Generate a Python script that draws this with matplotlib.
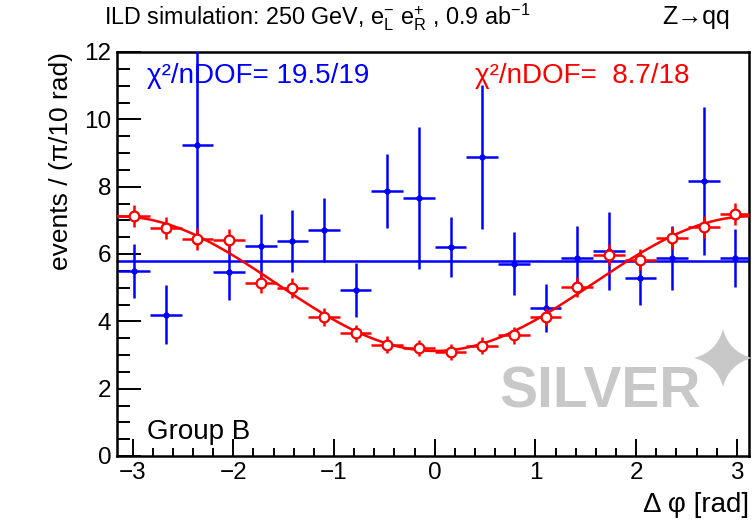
import numpy as np
import matplotlib
matplotlib.use("Agg")
import matplotlib.pyplot as plt
from matplotlib.ticker import MultipleLocator
from matplotlib.path import Path
from matplotlib.patches import PathPatch

plt.rcParams['font.family'] = ['Liberation Sans', 'DejaVu Sans']
plt.rcParams['mathtext.fontset'] = 'custom'
plt.rcParams['mathtext.rm'] = 'Liberation Sans'
plt.rcParams['mathtext.it'] = 'Liberation Sans:italic'
plt.rcParams['mathtext.bf'] = 'Liberation Sans:bold'

# 20 bins in delta phi over [-pi, pi]
n_bins = 20
edges = np.linspace(-np.pi, np.pi, n_bins + 1)
centers = 0.5 * (edges[1:] + edges[:-1])
half_w = 0.5 * (edges[1] - edges[0])

# group B events per bin
group_b = [5.50, 4.20, 9.25, 5.47, 6.25, 6.40, 6.72, 4.94, 7.87, 7.66,
           6.21, 8.88, 5.71, 4.40, 5.88, 6.09, 5.29, 5.88, 8.17, 5.88]
group_b_err = [0.80, 0.87, 2.85, 0.85, 0.95, 0.92, 0.95, 0.80, 1.10, 2.10,
               0.90, 2.15, 0.93, 0.72, 0.95, 1.15, 0.80, 0.95, 2.20, 0.85]
flat_level = 5.80

# reference sample
ref = [7.13, 6.77, 6.44, 6.42, 5.13, 5.00, 4.14, 3.65, 3.31, 3.20,
       3.10, 3.28, 3.58, 4.12, 5.03, 5.98, 5.83, 6.47, 6.80, 7.18]
ref_err = [0.33, 0.32, 0.32, 0.32, 0.30, 0.30, 0.27, 0.25, 0.25, 0.24,
           0.24, 0.25, 0.25, 0.27, 0.30, 0.32, 0.32, 0.32, 0.32, 0.33]
# a + b*cos(dphi) fit to the reference
fit_a, fit_b = 5.12, -2.00

blue = '#0000ff'
red = '#ff0000'
W, H = 754, 528

fig = plt.figure(figsize=(W / 100, H / 100), dpi=100)
ax = fig.add_axes([117 / W, 1 - 456 / H, (749 - 117) / W, (456 - 52) / H])

xmin, xmax = -3.155, 3.12
ax.set_xlim(xmin, xmax)
ax.set_ylim(0, 12)

# flat fit + group B points
ax.axhline(flat_level, color=blue, lw=1.8, zorder=2)
ax.errorbar(centers, group_b, xerr=half_w, yerr=group_b_err, fmt='o',
            color=blue, ms=3.5, elinewidth=1.8, capsize=0, zorder=3)

# cosine fit + reference points
xx = np.linspace(xmin, xmax, 300)
ax.plot(xx, fit_a + fit_b * np.cos(xx), color=red, lw=1.8, zorder=4)
ax.errorbar(centers, ref, xerr=half_w, yerr=ref_err, fmt='o', color=red,
            mfc='white', mec=red, mew=1.6, ms=7, elinewidth=1.8,
            capsize=0, zorder=5)

# axes styling
for s in ax.spines.values():
    s.set_linewidth(1.8)
ax.xaxis.set_major_locator(MultipleLocator(1))
ax.xaxis.set_minor_locator(MultipleLocator(0.2))
ax.yaxis.set_major_locator(MultipleLocator(2))
ax.yaxis.set_minor_locator(MultipleLocator(0.5))
ax.tick_params(axis='x', which='major', direction='in', length=12, width=1.4,
               labelsize=17.5, pad=4)
ax.tick_params(axis='x', which='minor', direction='in', length=6, width=1.4)
ax.tick_params(axis='y', which='major', direction='in', length=17, width=1.4,
               labelsize=17.5, pad=4)
ax.tick_params(axis='y', which='minor', direction='in', length=9, width=1.4)
ax.set_xticks([-3, -2, -1, 0, 1, 2, 3])
ax.set_xticklabels(['\u22123', '\u22122', '\u22121', '0', '1', '2', '3'])

ax.set_ylabel('events / (\u03c0/10 rad)', fontsize=19, loc='top', labelpad=8)
ax.set_xlabel('\u0394 \u03c6 [rad]', fontsize=20, loc='right', labelpad=6)

ax.text(0.048, 0.94, '\u03c7\u00b2/nDOF= 19.5/19', transform=ax.transAxes,
        color=blue, fontsize=20, va='center', ha='left')
ax.text(0.567, 0.94, '\u03c7\u00b2/nDOF=  8.7/18', transform=ax.transAxes,
        color=red, fontsize=20, va='center', ha='left')
ax.text(0.048, 0.06, 'Group B', transform=ax.transAxes, color='black',
        fontsize=20, va='center', ha='left')

# header
fig.text(104 / W, 1 - 17 / H,
         r'ILD simulation: 250 GeV, $\mathregular{e^{-}_{L}\ e^{+}_{R}}$ , 0.9 ab$^{\mathregular{-1}}$',
         fontsize=16.8, va='center', ha='left')
fig.text(662 / W, 1 - 17 / H, 'Z\u2192qq', fontsize=18, va='center', ha='left')

# watermark
fig.text(600 / W, 1 - 393 / H, 'SILVER', color='#c8c8c8', fontsize=41,
         fontweight='bold', ha='center', va='center')
cx, cy, R, c = 723, 358, 29, 6
star = [(0, R), (c, c), (R, 0), (c, -c), (0, -R), (-c, -c), (-R, 0), (-c, c), (0, R)]
verts = [((cx + dx) / W, 1 - (cy - dy) / H) for dx, dy in star]
codes = [Path.MOVETO] + [Path.CURVE3] * 8
fig.add_artist(PathPatch(Path(verts, codes), transform=fig.transFigure,
                         facecolor='#c8c8c8', edgecolor='none', zorder=10))

fig.savefig('out.png', dpi=100)
